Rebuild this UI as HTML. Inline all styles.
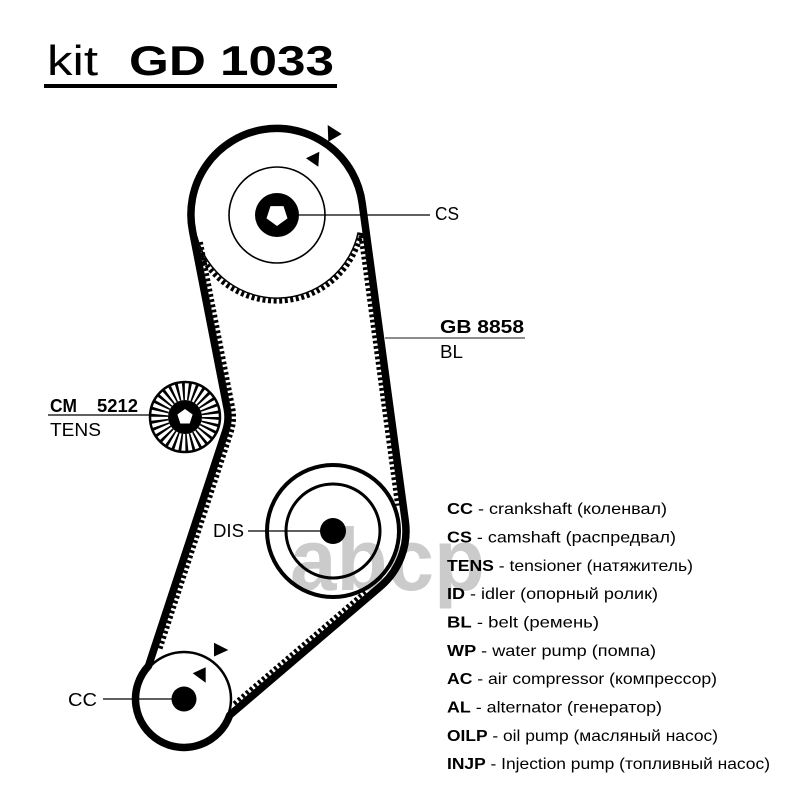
<!DOCTYPE html>
<html>
<head>
<meta charset="utf-8">
<style>
html,body{margin:0;padding:0;background:#fff;}
svg{display:block;}
text{font-family:"Liberation Sans","DejaVu Sans",sans-serif;fill:#000;}
</style>
</head>
<body>
<svg width="800" height="800" viewBox="0 0 800 800" xmlns="http://www.w3.org/2000/svg">
<rect width="800" height="800" fill="#fff"/>

<!-- watermark -->
<text x="290" y="590" font-size="88" font-weight="bold" textLength="195" lengthAdjust="spacingAndGlyphs" style="fill:#c6c6c6" opacity="0.9">abcp</text>

<!-- header -->
<text x="47" y="75" font-size="42" textLength="51" lengthAdjust="spacingAndGlyphs">kit</text>
<text x="129" y="75" font-size="42" font-weight="bold" textLength="205" lengthAdjust="spacingAndGlyphs">GD 1033</text>
<rect x="44" y="84" width="293" height="4" fill="#000"/>

<!-- belt -->
<path d="M192.6,231.4 A86,86 0 1 1 362.2,203.4 L405.3,521.2 A73,73 0 0 1 380.4,586.5 L229.7,715.2 A48.5,48.5 0 1 1 148.5,665.9 L225.9,430.4 A43,43 0 0 0 227.2,408.8 Z" fill="none" stroke="#000" stroke-width="7.5" stroke-linejoin="round"/>

<!-- belt teeth -->
<g fill="none" stroke="#000" stroke-width="4.5" stroke-dasharray="2.8 2.5">
<path d="M200.6,242 L232.9,407.7 A48.8,48.8 0 0 1 231.4,432.2 L159.9,650"/>
<path d="M360.7,235.7 L397.4,505.7"/>
<path d="M365.2,591.7 L232.2,705.3"/>
</g>
<path d="M361.3,232.9 A86.3,86.3 0 0 1 193.6,237.3" fill="none" stroke="#000" stroke-width="5" stroke-dasharray="3 2.6"/>
<path d="M358.2,232.3 A83,83 0 0 1 196.8,236.5" fill="none" stroke="#000" stroke-width="1.5"/>

<!-- CS pulley -->
<line x1="277" y1="215" x2="430" y2="215" stroke="#000" stroke-width="1.2"/>
<circle cx="277" cy="215" r="48" fill="none" stroke="#000" stroke-width="1.6"/>
<circle cx="277" cy="215" r="22" fill="#000"/>
<polygon points="277,226 266.5,218.4 270.5,206.1 283.5,206.1 287.5,218.4" fill="#fff"/>
<polygon points="327.7,125 341.7,134 328.3,141.7" fill="#000"/>
<polygon points="306,158.3 319.3,151.7 318.3,166.7" fill="#000"/>
<text x="435" y="220" font-size="18" textLength="24" lengthAdjust="spacingAndGlyphs">CS</text>

<!-- belt label -->
<line x1="385" y1="338" x2="525" y2="338" stroke="#666" stroke-width="1.5"/>
<text x="440" y="333" font-size="18" font-weight="bold" textLength="84" lengthAdjust="spacingAndGlyphs">GB 8858</text>
<text x="440" y="358" font-size="18" textLength="23" lengthAdjust="spacingAndGlyphs">BL</text>

<!-- tensioner -->
<line x1="48" y1="415" x2="152" y2="415" stroke="#000" stroke-width="1.3"/>
<circle cx="185" cy="417" r="26" fill="none" stroke="#000" stroke-width="18" stroke-dasharray="2.3 3.15"/>
<circle cx="185" cy="417" r="35" fill="none" stroke="#000" stroke-width="2.5"/>
<circle cx="185" cy="417" r="17" fill="#000"/>
<polygon points="185,409 192.6,414.5 189.7,423.5 180.3,423.5 177.4,414.5" fill="#fff"/>
<text x="50" y="412" font-size="18" font-weight="bold" textLength="27" lengthAdjust="spacingAndGlyphs">CM</text>
<text x="97" y="412" font-size="18" font-weight="bold" textLength="41" lengthAdjust="spacingAndGlyphs">5212</text>
<text x="50" y="436" font-size="18" textLength="51" lengthAdjust="spacingAndGlyphs">TENS</text>

<!-- DIS -->
<line x1="248" y1="531" x2="333" y2="531" stroke="#000" stroke-width="1.2"/>
<circle cx="333" cy="531" r="66" fill="none" stroke="#000" stroke-width="4"/>
<circle cx="333" cy="531" r="47" fill="none" stroke="#000" stroke-width="3"/>
<circle cx="333" cy="531" r="13" fill="#000"/>
<text x="213" y="537" font-size="18" textLength="31" lengthAdjust="spacingAndGlyphs">DIS</text>

<!-- CC -->
<line x1="103" y1="699" x2="184" y2="699" stroke="#000" stroke-width="1.2"/>
<circle cx="184" cy="699" r="47" fill="none" stroke="#000" stroke-width="2.5"/>
<circle cx="184" cy="699" r="12.5" fill="#000"/>
<polygon points="214,642.7 228.3,650 214,656.5" fill="#000"/>
<polygon points="192.7,673.3 205.7,667.3 205.7,682.7" fill="#000"/>
<text x="68" y="706" font-size="18" textLength="29" lengthAdjust="spacingAndGlyphs">CC</text>

<!-- legend -->
<g font-size="16">
<text x="447" y="514" textLength="220" lengthAdjust="spacingAndGlyphs"><tspan font-weight="bold">CC</tspan> - crankshaft (коленвал)</text>
<text x="447" y="542.5" textLength="229" lengthAdjust="spacingAndGlyphs"><tspan font-weight="bold">CS</tspan> - camshaft (распредвал)</text>
<text x="447" y="571" textLength="246" lengthAdjust="spacingAndGlyphs"><tspan font-weight="bold">TENS</tspan> - tensioner (натяжитель)</text>
<text x="447" y="599" textLength="211" lengthAdjust="spacingAndGlyphs"><tspan font-weight="bold">ID</tspan> - idler (опорный ролик)</text>
<text x="447" y="627.5" textLength="152" lengthAdjust="spacingAndGlyphs"><tspan font-weight="bold">BL</tspan> - belt (ремень)</text>
<text x="447" y="656" textLength="209" lengthAdjust="spacingAndGlyphs"><tspan font-weight="bold">WP</tspan> - water pump (помпа)</text>
<text x="447" y="684" textLength="270" lengthAdjust="spacingAndGlyphs"><tspan font-weight="bold">AC</tspan> - air compressor (компрессор)</text>
<text x="447" y="712.5" textLength="215" lengthAdjust="spacingAndGlyphs"><tspan font-weight="bold">AL</tspan> - alternator (генератор)</text>
<text x="447" y="741" textLength="271" lengthAdjust="spacingAndGlyphs"><tspan font-weight="bold">OILP</tspan> - oil pump (масляный насос)</text>
<text x="447" y="769" textLength="323" lengthAdjust="spacingAndGlyphs"><tspan font-weight="bold">INJP</tspan> - Injection pump (топливный насос)</text>
</g>
</svg>
</body>
</html>
